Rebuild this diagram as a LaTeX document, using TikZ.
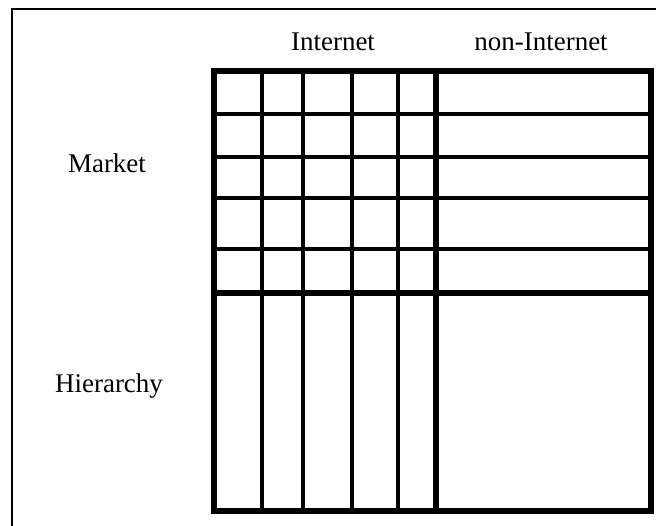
\documentclass[tikz,border=0pt]{standalone}
\usepackage{fontspec}
\setmainfont{Liberation Serif}
\begin{document}
\begin{tikzpicture}[x=1pt,y=-1pt,
  duenn/.style={line width=3.2pt},
  dick/.style={line width=5.5pt},
  rahmen/.style={line width=2.5pt},
  label/.style={font=\fontsize{27}{32}\selectfont}]
\useasboundingbox (0,0) rectangle (656,526);
% Rahmen (rechts und unten abgeschnitten)
\draw[rahmen] (12,540) -- (12,9) -- (670,9);
% Beschriftung
\node[label] (internet) at (333,42) {Internet};
\node[label] (noninternet) at (541,42) {non-Internet};
\node[label] (market) at (107,163) {Market};
\node[label] (hierarchy) at (109,386) {Hierarchy};
% Raster Internet
\draw[duenn] (262,71) -- (262,511);
\draw[duenn] (303,71) -- (303,511);
\draw[duenn] (352,71) -- (352,511);
\draw[duenn] (398,71) -- (398,511);
\draw[duenn] (214,114) -- (651,114);
\draw[duenn] (214,157) -- (651,157);
\draw[duenn] (214,198) -- (651,198);
\draw[duenn] (214,249) -- (651,249);
% dicke Linien
\draw[dick] (436,71) -- (436,511);
\draw[dick] (214,293) -- (651,293);
\draw[dick] (214,71) rectangle (651,511);
\end{tikzpicture}
\end{document}
